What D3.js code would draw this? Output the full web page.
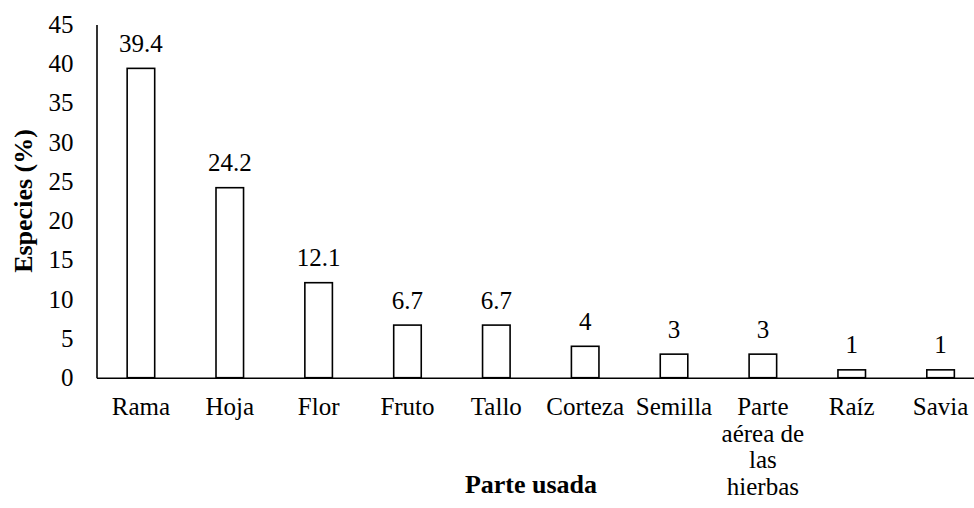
<!DOCTYPE html>
<html>
<head>
<meta charset="utf-8">
<script src="https://cdn.jsdelivr.net/npm/d3@7"></script>
<style>
  html, body { margin: 0; padding: 0; background: #fff; }
  svg { display: block; }
</style>
</head>
<body>
<svg id="chart" width="974" height="508"></svg>
<script>
const categories = ["Rama", "Hoja", "Flor", "Fruto", "Tallo", "Corteza", "Semilla", "Parte aérea de las hierbas", "Raíz", "Savia"];
const categoryLines = [["Rama"], ["Hoja"], ["Flor"], ["Fruto"], ["Tallo"], ["Corteza"], ["Semilla"], ["Parte", "aérea de", "las", "hierbas"], ["Raíz"], ["Savia"]];
const values = [39.4, 24.2, 12.1, 6.7, 6.7, 4, 3, 3, 1, 1];
const valueLabels = ["39.4", "24.2", "12.1", "6.7", "6.7", "4", "3", "3", "1", "1"];
const yTicks = [0, 5, 10, 15, 20, 25, 30, 35, 40, 45];
const yTitle = "Especies (%)";
const xTitle = "Parte usada";

const FONT = "'Liberation Serif', 'Times New Roman', Tinos, serif";
const svg = d3.select("#chart");
const x0 = 96.5, x1 = 985, yTop = 24.4, yBot = 377.7;

const x = d3.scaleBand().domain(categories).range([x0, x1]).paddingInner(0.69).paddingOuter(0.345);
const y = d3.scaleLinear().domain([0, 45]).range([yBot, yTop]);

// Y axis
const yAxis = svg.append("g").attr("transform", `translate(${x0},0)`)
  .call(d3.axisLeft(y).tickValues(yTicks).tickSize(0).tickPadding(23).tickFormat(d3.format("d")));
yAxis.attr("font-family", null).attr("font-size", null);
yAxis.select(".domain").attr("stroke", "#000").attr("stroke-width", 1.6);
yAxis.selectAll("text").style("font-family", FONT).style("font-size", "25px").attr("fill", "#000");

// Bars
svg.append("g").selectAll("rect").data(categories).join("rect")
  .attr("x", d => x(d))
  .attr("width", x.bandwidth())
  .attr("y", (d, i) => y(values[i]))
  .attr("height", (d, i) => y(0) - y(values[i]))
  .attr("fill", "#fff")
  .attr("stroke", "#000")
  .attr("stroke-width", 1.6);

// Value labels
svg.append("g").selectAll("text").data(categories).join("text")
  .attr("x", d => x(d) + x.bandwidth() / 2)
  .attr("y", (d, i) => y(values[i]) - 16.5)
  .attr("text-anchor", "middle")
  .style("font-family", FONT).style("font-size", "25px").attr("fill", "#000")
  .text((d, i) => valueLabels[i]);

// X axis
const xAxis = svg.append("g").attr("transform", `translate(0,${yBot})`)
  .call(d3.axisBottom(x).tickSize(0).tickFormat(""));
xAxis.select(".domain").attr("stroke", "#000").attr("stroke-width", 1.6);

// Category labels (multi-line)
const catG = svg.append("g");
categories.forEach((c, i) => {
  const cx = x(c) + x.bandwidth() / 2;
  const t = catG.append("text")
    .attr("x", cx)
    .attr("y", yBot + 37.5)
    .attr("text-anchor", "middle")
    .style("font-family", FONT).style("font-size", "25px").attr("fill", "#000");
  categoryLines[i].forEach((line, j) => {
    t.append("tspan").attr("x", cx).attr("dy", j === 0 ? 0 : 26.5).text(line);
  });
});

// Axis titles
svg.append("text")
  .attr("x", 531).attr("y", 493)
  .attr("text-anchor", "middle")
  .style("font-family", FONT).style("font-size", "26px").style("font-weight", "bold").attr("fill", "#000")
  .text(xTitle);

svg.append("text")
  .attr("transform", "translate(31.5,201) rotate(-90)")
  .attr("text-anchor", "middle")
  .style("font-family", FONT).style("font-size", "26px").style("font-weight", "bold").attr("fill", "#000")
  .text(yTitle);
</script>
</body>
</html>
